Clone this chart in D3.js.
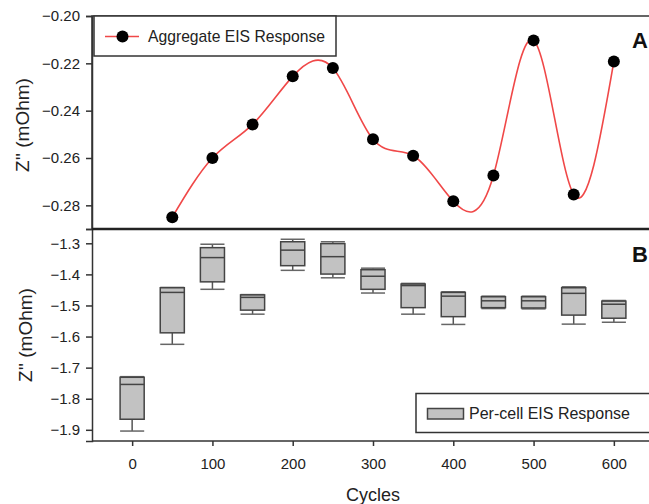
<!DOCTYPE html>
<html>
<head>
<meta charset="utf-8">
<script src="https://cdn.jsdelivr.net/npm/d3@7"></script>
<style>
  body { margin: 0; background: #fff; }
  svg { display: block; font-family: "Liberation Sans", Arial, sans-serif; }
  .axis text { font-size: 15px; fill: #222; }
  .axis path, .axis line { stroke: #333; stroke-width: 1.5; }
</style>
</head>
<body>
<div class="chart"></div>
<script>
// panel A: aggregate response
const cyclesA = [50, 100, 150, 200, 250, 300, 350, 400, 450, 500, 550, 600]
const aggregate = [-0.285, -0.260, -0.2458, -0.2255, -0.222, -0.2521, -0.259, -0.2783, -0.2674, -0.2103, -0.2754, -0.2192]

// panel B: per-cell box plots
const cyclesB = [0, 50, 100, 150, 200, 250, 300, 350, 400, 450, 500, 550, 600]
const boxMin = [-1.904, -1.625, -1.448, -1.528, -1.387, -1.411, -1.460, -1.528, -1.561, -1.510, -1.511, -1.560, -1.554]
const boxQ1  = [-1.866, -1.588, -1.424, -1.515, -1.372, -1.399, -1.448, -1.507, -1.536, -1.507, -1.508, -1.531, -1.541]
const boxMed = [-1.754, -1.458, -1.346, -1.474, -1.322, -1.343, -1.406, -1.436, -1.470, -1.485, -1.485, -1.461, -1.496]
const boxQ3  = [-1.731, -1.443, -1.314, -1.466, -1.295, -1.301, -1.385, -1.431, -1.458, -1.472, -1.472, -1.443, -1.486]
const boxMax = [-1.729, -1.442, -1.303, -1.465, -1.287, -1.295, -1.380, -1.429, -1.456, -1.470, -1.470, -1.440, -1.484]

const xTicks = [0, 100, 200, 300, 400, 500, 600]
const yTicksA = [-0.28, -0.26, -0.24, -0.22, -0.20]
const yTicksB = [-1.9, -1.8, -1.7, -1.6, -1.5, -1.4, -1.3]

const width = 649
const height = 504
const left = 92, right = 654
const topA = 16, mid = 229, bottomB = 441

const svg = d3.select('.chart').append('svg')
  .attr('width', width)
  .attr('height', height)

const xScale = d3.scaleLinear().domain([-50, 650]).range([left, right])
const yA = d3.scaleLinear().domain([-0.29, -0.20]).range([mid, topA])
const yB = d3.scaleLinear().domain([-1.936, -1.254]).range([bottomB, mid])

// frame of panel A
svg.append('rect')
  .attr('x', left).attr('y', topA)
  .attr('width', right - left).attr('height', mid - topA)
  .attr('fill', 'none').attr('stroke', '#333').attr('stroke-width', 1.5)

// y axis A
svg.append('g')
  .attr('class', 'axis')
  .attr('transform', `translate(${left},0)`)
  .call(d3.axisLeft(yA).tickValues(yTicksA).tickSize(6).tickPadding(6).tickFormat(d3.format('.2f')))

// y axis B
svg.append('g')
  .attr('class', 'axis')
  .attr('transform', `translate(${left},0)`)
  .call(d3.axisLeft(yB).tickValues(yTicksB).tickSize(6).tickPadding(6).tickFormat(d3.format('.1f')))

// x axis B
svg.append('g')
  .attr('class', 'axis')
  .attr('transform', `translate(0,${bottomB})`)
  .call(d3.axisBottom(xScale).tickValues(xTicks).tickSize(5).tickPadding(12).tickFormat(d3.format('d')))
  .call(g => g.select('.domain').attr('d', `M${left},0H${right}`))

// divider between panels
svg.append('line')
  .attr('x1', left).attr('x2', right)
  .attr('y1', mid).attr('y2', mid)
  .attr('stroke', '#222').attr('stroke-width', 2.5)

// spline through the aggregate points
const line = d3.line()
  .x((d, i) => xScale(cyclesA[i]))
  .y(d => yA(d))
  .curve(d3.curveNatural)

svg.append('path')
  .datum(aggregate)
  .attr('d', line)
  .attr('fill', 'none')
  .attr('stroke', '#f04848')
  .attr('stroke-width', 1.6)

svg.append('g').selectAll('circle')
  .data(aggregate)
  .join('circle')
  .attr('cx', (d, i) => xScale(cyclesA[i]))
  .attr('cy', d => yA(d))
  .attr('r', 6)
  .attr('fill', '#000')

// legend A
const legA = svg.append('g')
legA.append('rect')
  .attr('x', 94).attr('y', topA)
  .attr('width', 242).attr('height', 40)
  .attr('fill', '#fff').attr('stroke', '#333').attr('stroke-width', 1.5)
legA.append('line')
  .attr('x1', 105).attr('x2', 139).attr('y1', 36.5).attr('y2', 36.5)
  .attr('stroke', '#f04848').attr('stroke-width', 1.6)
legA.append('circle').attr('cx', 122.5).attr('cy', 36.5).attr('r', 6).attr('fill', '#000')
legA.append('text')
  .attr('x', 148).attr('y', 42)
  .attr('font-size', 15.7).attr('fill', '#222')
  .text('Aggregate EIS Response')

// box plots
const half = 15
const boxes = svg.append('g')
cyclesB.forEach((c, i) => {
  const x0 = xScale(c - half), x1 = xScale(c + half), xc = xScale(c)
  // whiskers
  boxes.append('line').attr('x1', xc).attr('x2', xc).attr('y1', yB(boxQ1[i])).attr('y2', yB(boxMin[i]))
    .attr('stroke', '#555').attr('stroke-width', 1.5)
  boxes.append('line').attr('x1', xc).attr('x2', xc).attr('y1', yB(boxQ3[i])).attr('y2', yB(boxMax[i]))
    .attr('stroke', '#555').attr('stroke-width', 1.5)
  boxes.append('line').attr('x1', x0).attr('x2', x1).attr('y1', yB(boxMin[i])).attr('y2', yB(boxMin[i]))
    .attr('stroke', '#666').attr('stroke-width', 1.5)
  boxes.append('line').attr('x1', x0).attr('x2', x1).attr('y1', yB(boxMax[i])).attr('y2', yB(boxMax[i]))
    .attr('stroke', '#666').attr('stroke-width', 1.5)
  boxes.append('rect')
    .attr('x', x0).attr('y', yB(boxQ3[i]))
    .attr('width', x1 - x0).attr('height', yB(boxQ1[i]) - yB(boxQ3[i]))
    .attr('fill', '#c2c2c2').attr('stroke', '#444').attr('stroke-width', 1.5)
  boxes.append('line').attr('x1', x0).attr('x2', x1).attr('y1', yB(boxMed[i])).attr('y2', yB(boxMed[i]))
    .attr('stroke', '#444').attr('stroke-width', 1.5)
})

// legend B
const legB = svg.append('g')
legB.append('rect')
  .attr('x', 416).attr('y', 393.5)
  .attr('width', 240).attr('height', 39)
  .attr('fill', '#fff').attr('stroke', '#333').attr('stroke-width', 1.5)
legB.append('rect')
  .attr('x', 427.5).attr('y', 408.5)
  .attr('width', 36).attr('height', 10.5)
  .attr('fill', '#c2c2c2').attr('stroke', '#444').attr('stroke-width', 1.5)
legB.append('text')
  .attr('x', 469).attr('y', 419)
  .attr('font-size', 16).attr('fill', '#222')
  .text('Per-cell EIS Response')

// axis titles
svg.append('text')
  .attr('transform', 'translate(29,125) rotate(-90)')
  .attr('text-anchor', 'middle')
  .attr('font-size', 19).attr('fill', '#222')
  .text("Z'' (mOhm)")
svg.append('text')
  .attr('transform', 'translate(32,335) rotate(-90)')
  .attr('text-anchor', 'middle')
  .attr('font-size', 19).attr('fill', '#222')
  .text("Z'' (mOhm)")
svg.append('text')
  .attr('x', 373).attr('y', 501)
  .attr('text-anchor', 'middle')
  .attr('font-size', 18).attr('fill', '#222')
  .text('Cycles')

// panel letters
svg.append('text').attr('x', 632).attr('y', 48)
  .attr('font-size', 22).attr('font-weight', 'bold').attr('fill', '#111').text('A')
svg.append('text').attr('x', 632).attr('y', 262)
  .attr('font-size', 22).attr('font-weight', 'bold').attr('fill', '#111').text('B')
</script>
</body>
</html>
